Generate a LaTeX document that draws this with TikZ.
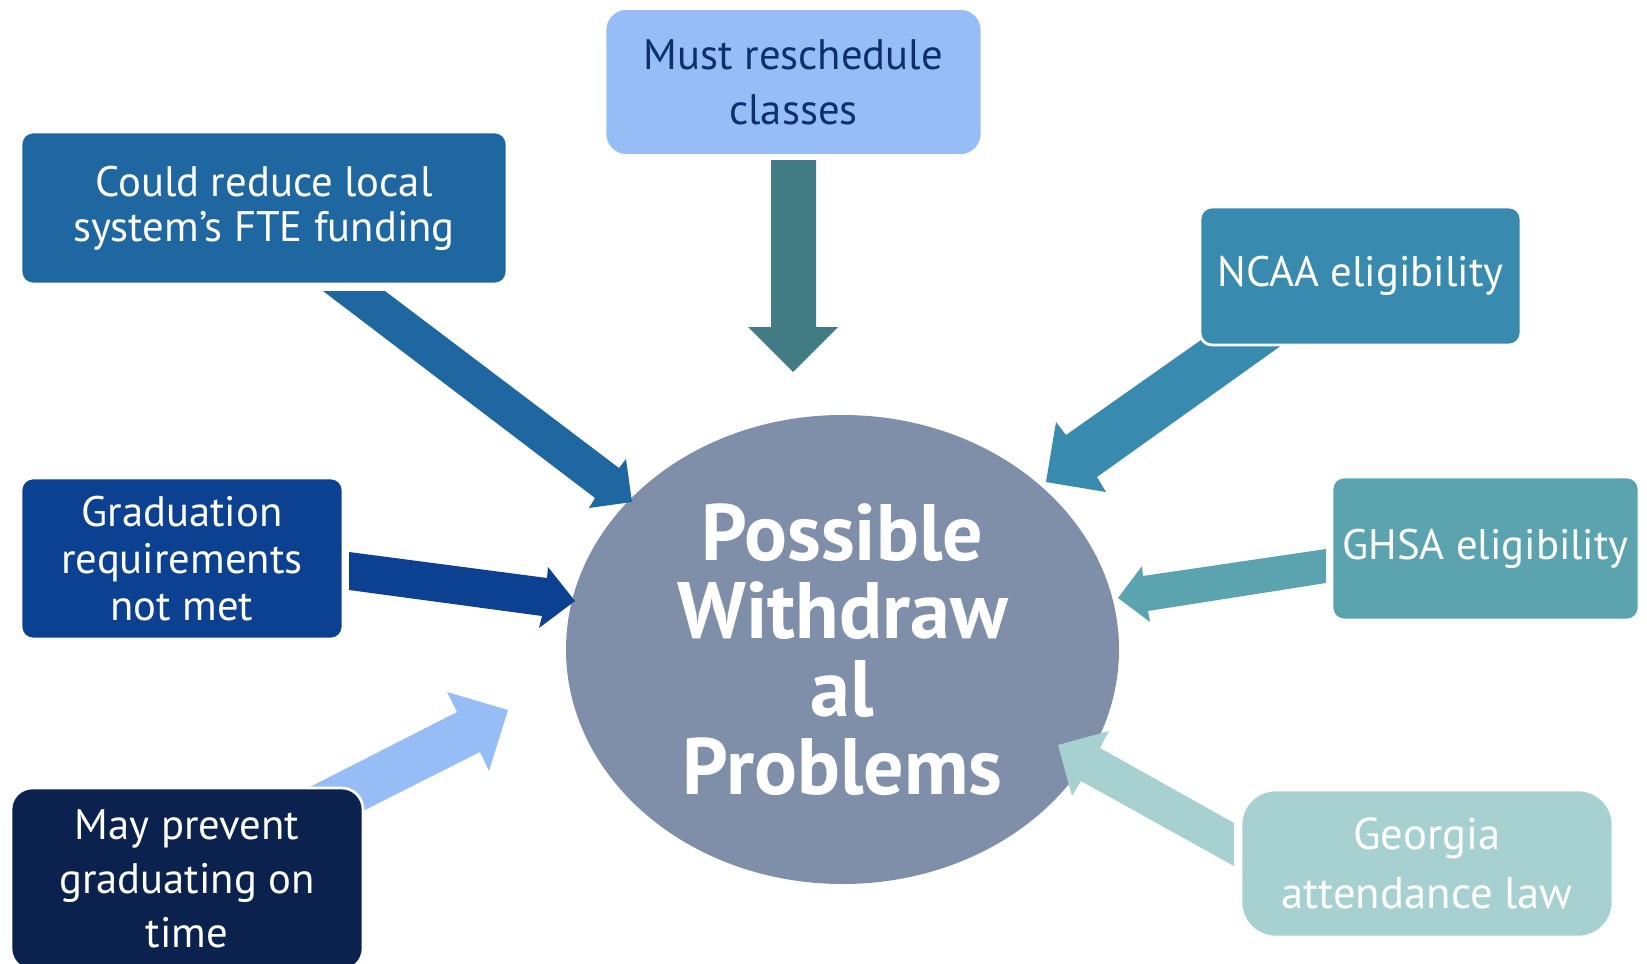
\documentclass[tikz,border=0pt]{standalone}
\usepackage{fontspec}
\setmainfont{PT Sans}
\usetikzlibrary{shapes.geometric}
\definecolor{cA}{RGB}{31,103,161}
\definecolor{cB}{RGB}{151,189,247}
\definecolor{cBt}{RGB}{13,47,110}
\definecolor{cArB}{RGB}{65,123,132}
\definecolor{cC}{RGB}{57,138,175}
\definecolor{cD}{RGB}{91,163,174}
\definecolor{cE}{RGB}{166,209,208}
\definecolor{cF}{RGB}{12,65,145}
\definecolor{cG}{RGB}{10,34,77}
\definecolor{cEll}{RGB}{127,143,170}
\begin{document}
\begin{tikzpicture}[x=0.75pt,y=-0.75pt,
  box/.style={rectangle, draw=white, line width=2pt, align=center, inner sep=0pt, text=white},
  boxfont/.style={font=\fontsize{32}{#1}\selectfont}]
\useasboundingbox (0,0) rectangle (1647,964);
\clip (0,0) rectangle (1647,964);
\fill[white] (0,0) rectangle (1647,964);

% central ellipse
\node[ellipse, fill=cEll, minimum width=414.75pt, minimum height=351.75pt, inner sep=0pt,
  align=center, text=white, font=\bfseries\fontsize{60}{58.5}\selectfont] (core) at (842.5,649.5)
  {Possible\\Withdraw\\al\\Problems};

% block arrows
\fill[cA] (323,291) -- (385,291) -- (619,468) -- (626,459) -- (632,502) -- (589,508) -- (595,498) -- cycle;
\fill[cArB] (771,160) -- (816,160) -- (816,327) -- (838,327) -- (793,372) -- (748,327) -- (771,327) -- cycle;
\fill[cC] (1201,340) -- (1066,435) -- (1056,422) -- (1046,482) -- (1106,492) -- (1097,477) -- (1289,340) -- cycle;
\fill[cD] (1326,549) -- (1143,576) -- (1142,566) -- (1118,598) -- (1150,622) -- (1148,611) -- (1326,583) -- cycle;
\fill[cE] (1234,823) -- (1100,748) -- (1109,731) -- (1058,745) -- (1072,796) -- (1081,781) -- (1234,866) -- cycle;
\fill[cF] (349,552) -- (547,578) -- (548,567) -- (575,601) -- (539,628) -- (542,616) -- (349,590) -- cycle;
\fill[cB] (300,792) -- (457,712) -- (447,692) -- (508,710) -- (489,771) -- (480,752) -- (345,820) -- cycle;

% boxes
\node[box, fill=cA, rounded corners=9pt, minimum width=364.5pt, minimum height=114pt, boxfont=33.75]
  (fte) at (264,208) {Could reduce local\\system’s FTE funding};
\node[box, fill=cB, text=cBt, rounded corners=16pt, minimum width=282.75pt, minimum height=110.25pt, boxfont=41.25]
  (resched) at (793.5,82) {Must reschedule\\classes};
\node[box, fill=cC, rounded corners=9pt, minimum width=240.75pt, minimum height=103.5pt, boxfont=38]
  (ncaa) at (1360.5,276) {NCAA eligibility};
\node[box, fill=cD, rounded corners=9pt, minimum width=230.25pt, minimum height=107.25pt, boxfont=38]
  (ghsa) at (1485.5,548.5) {GHSA eligibility};
\node[box, fill=cE, rounded corners=26pt, minimum width=279pt, minimum height=110.25pt,
  font=\fontsize{33.5}{44.25}\selectfont]
  (ga) at (1427,863.5) {Georgia\\attendance law};
\node[box, fill=cF, rounded corners=9pt, minimum width=241.5pt, minimum height=120.75pt, boxfont=35.25]
  (grad) at (182,558.5) {Graduation\\requirements\\not met};
\node[box, fill=cG, rounded corners=16pt, minimum width=264pt, minimum height=136.5pt, boxfont=40.5]
  (ontime) at (187,879) {May prevent\\graduating on\\time};
\end{tikzpicture}
\end{document}
